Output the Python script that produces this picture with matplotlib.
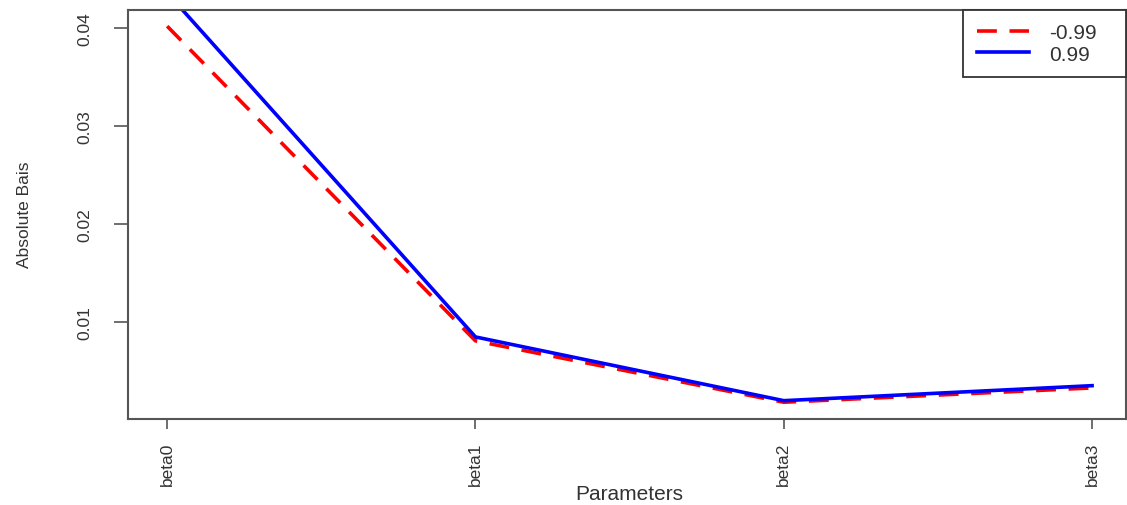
import matplotlib
matplotlib.use("Agg")
import matplotlib.pyplot as plt

params = ["beta0", "beta1", "beta2", "beta3"]
neg099 = [0.0402, 0.0081, 0.00184, 0.0033]
pos099 = [0.0436, 0.0085, 0.0020, 0.00353]
yticks = [0.01, 0.02, 0.03, 0.04]
ytick_labels = ["0.01", "0.02", "0.03", "0.04"]

plt.rcParams['font.family'] = ['Liberation Sans', 'DejaVu Sans']
txt = '#333333'

fig = plt.figure(figsize=(11.27, 5.06), dpi=100)
ax = fig.add_axes([128/1127, 86/506, 998/1127, 409.5/506])

x = list(range(len(params)))
ax.plot(x, neg099, color='red', lw=2.6, linestyle=(0, (5.5, 3.5)), label='-0.99')
ax.plot(x, pos099, color='blue', lw=2.6, label='0.99')

ax.set_xlim(-0.127, 3.11)
ax.set_ylim(0.00013, 0.0419)
ax.set_xticks(x)
ax.set_xticklabels(params, rotation=90, fontsize=12.5, color=txt)
ax.set_yticks(yticks)
ax.set_yticklabels(ytick_labels, rotation=90, fontsize=12.5, color=txt, va='center')
ax.tick_params(axis='x', length=7, width=1.2, color='#555555', pad=9)
ax.tick_params(axis='y', length=10, width=1.2, color='#555555', pad=16)
for s in ax.spines.values():
    s.set_color('#555555')
    s.set_linewidth(1.5)

ax.set_xlabel("Parameters", fontsize=15, color=txt)
ax.set_ylabel("Absolute Bais", fontsize=12.5, color=txt)
ax.xaxis.set_label_coords((629-128)/998, (420-485)/409.5)
ax.yaxis.set_label_coords((32-128)/998, (420-214.5)/409.5)

leg = ax.legend(loc='upper right', bbox_to_anchor=((963-128)/998, 0, 163/998, 1),
                mode='expand', borderaxespad=0, fancybox=False,
                edgecolor='#333333', fontsize=15, handlelength=2.5,
                handletextpad=1.0, labelspacing=0.12, borderpad=0.65,
                framealpha=1)
leg.get_frame().set_linewidth(1.3)
for t in leg.get_texts():
    t.set_color(txt)

fig.savefig("out.png", dpi=100)
